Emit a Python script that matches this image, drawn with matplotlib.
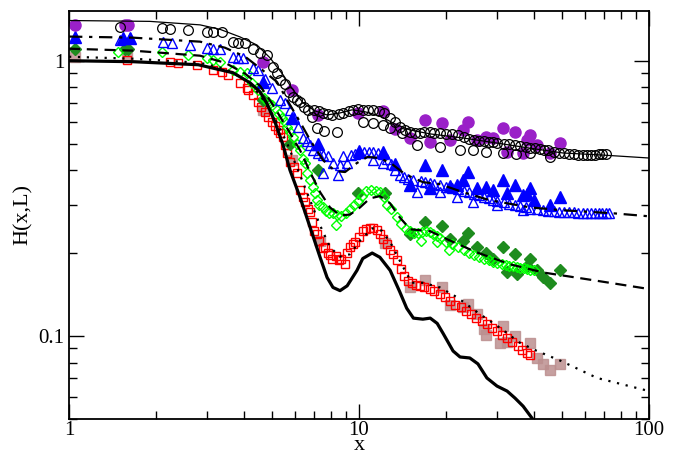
import matplotlib
matplotlib.use('Agg')
import matplotlib.pyplot as plt
from matplotlib.ticker import LogLocator, NullFormatter

plt.rcParams['font.family'] = ['Liberation Serif', 'DejaVu Serif']

# theory curves
xA = [1, 1.9, 2.83, 3.32, 3.89, 4.45, 4.93, 5.47, 5.92, 6.41, 7.05, 7.76, 8.6, 9.46, 10.5,
      11.8, 13.3, 15.0, 17.6, 22.8, 29.9, 38.9, 50.5, 69.4, 100]
yA = [1.40, 1.39, 1.35, 1.30, 1.22, 1.14, 1.025, 0.889, 0.784, 0.703, 0.657, 0.635, 0.646, 0.663, 0.652,
      0.630, 0.589, 0.560, 0.542, 0.524, 0.502, 0.481, 0.462, 0.454, 0.443]

xB = [1, 1.66, 2.83, 3.45, 4.05, 4.63, 5.21, 5.78, 6.26, 6.78, 7.52, 8.27, 8.95, 9.84, 10.7,
      11.8, 13.0, 14.4, 16.6, 19.0, 22.8, 28.3, 38.9, 50.5, 75.1, 100]
yB = [1.224, 1.213, 1.173, 1.115, 1.034, 0.927, 0.838, 0.691, 0.599, 0.515, 0.435, 0.397, 0.394, 0.425, 0.447,
      0.443, 0.421, 0.387, 0.362, 0.356, 0.333, 0.311, 0.293, 0.286, 0.279, 0.272]

xC = [1, 1.66, 2.83, 3.45, 4.05, 4.56, 5.05, 5.78, 6.26, 6.78, 7.34, 7.94, 8.6, 9.31, 10.08,
      10.9, 11.8, 12.8, 13.8, 15.0, 17.6, 20.6, 25.5, 33.2, 43.1, 62.6, 100]
yC = [1.106, 1.088, 1.043, 0.983, 0.897, 0.810, 0.691, 0.546, 0.473, 0.394, 0.333, 0.293, 0.274, 0.276, 0.293,
      0.316, 0.322, 0.303, 0.270, 0.244, 0.240, 0.222, 0.201, 0.182, 0.170, 0.160, 0.148]

xD = [1, 1.66, 2.83, 3.45, 4.05, 4.56, 5.05, 5.65, 6.26, 6.78, 7.34, 7.94, 8.6, 9.31, 10.08,
      11.1, 12.0, 13.0, 14.1, 15.2, 16.6, 19.0, 21.8, 26.1, 30.6, 35.9, 41.1, 49.8, 66.2, 100]
yD = [1.034, 1.017, 0.983, 0.935, 0.852, 0.751, 0.635, 0.501, 0.384, 0.311, 0.252, 0.210, 0.194, 0.198, 0.222,
      0.246, 0.241, 0.213, 0.180, 0.156, 0.156, 0.150, 0.138, 0.120, 0.107, 0.0943, 0.0881, 0.081, 0.0703, 0.063]

xE = [1, 1.66, 2.79, 3.68, 4.21, 4.56, 4.82, 5.13, 5.47, 5.78, 6.26, 6.78, 7.34, 7.76, 8.13, 8.6,
      9.1, 9.84, 10.3, 11.1, 11.8, 12.8, 13.8, 14.6, 15.4, 16.6, 17.6, 18.6, 19.5, 21.1, 22.3, 24.1,
      25.7, 27.6, 29.9, 32.4, 34.5, 36.8, 39.5, 40.4]
yE = [1.0, 0.992, 0.967, 0.904, 0.831, 0.770, 0.697, 0.599, 0.494, 0.400, 0.319, 0.248, 0.193, 0.163, 0.150, 0.146,
      0.152, 0.173, 0.191, 0.200, 0.193, 0.173, 0.145, 0.126, 0.116, 0.115, 0.116, 0.111, 0.102, 0.0881, 0.0838, 0.0831,
      0.0791, 0.0703, 0.0657, 0.0630, 0.0594, 0.0555, 0.0502, 0.0482]

# open black circles
xc = [1.50, 2.09, 2.23, 2.57, 2.99, 3.14, 3.37, 3.68, 3.83, 4.05, 4.31, 4.55, 4.82, 5.05, 5.2, 5.33, 5.55,
      5.75, 5.92, 6.1, 6.26, 6.45, 6.65, 6.88, 7.0, 7.16, 7.3, 7.5, 7.6, 7.8, 8.1, 8.4, 8.5, 8.8, 9.2, 9.5,
      9.9, 10.3, 10.3, 10.7, 11.2, 11.2, 11.7, 12.1, 12.2, 12.8, 12.8, 13.3, 13.8, 14.1, 14.4, 15.0, 15.8,
      15.6, 16.2, 16.8, 17.5, 18.2, 19.0, 19.0, 20, 21, 22, 22.3, 23, 24, 24.7, 25, 26, 27, 27.5, 28, 29,
      30, 31.3, 31.5, 33, 34.5, 34.9, 36, 37.5, 38.9, 39, 40.5, 42, 43.5, 45, 45.5, 47, 49, 51, 53, 55, 57,
      59, 61, 63, 65, 67, 69, 71]
yc = [1.33, 1.32, 1.30, 1.29, 1.27, 1.27, 1.27, 1.17, 1.16, 1.16, 1.10, 1.07, 1.05, 0.95, 0.90, 0.85, 0.82,
      0.77, 0.74, 0.72, 0.71, 0.68, 0.66, 0.625, 0.662, 0.57, 0.655, 0.646, 0.555, 0.64, 0.635, 0.551, 0.64,
      0.646, 0.655, 0.662, 0.665, 0.66, 0.60, 0.662, 0.594, 0.66, 0.655, 0.584, 0.645, 0.62, 0.569, 0.60,
      0.575, 0.546, 0.56, 0.552, 0.494, 0.548, 0.548, 0.549, 0.55, 0.548, 0.486, 0.545, 0.542, 0.54, 0.537,
      0.473, 0.53, 0.52, 0.473, 0.515, 0.512, 0.51, 0.466, 0.507, 0.505, 0.503, 0.461, 0.50, 0.497, 0.494,
      0.458, 0.49, 0.486, 0.461, 0.483, 0.48, 0.478, 0.475, 0.472, 0.446, 0.466, 0.463, 0.461, 0.459, 0.457,
      0.456, 0.456, 0.455, 0.455, 0.456, 0.457, 0.458, 0.458]

# filled purple circles
xp = [1.05, 1.56, 1.60, 4.66, 5.87, 7.22, 9.9, 12.1, 13.3, 15.0, 16.9, 17.6, 19.3, 20.6, 22.8, 23.7,
      25.5, 27.5, 29.0, 31.3, 32.4, 34.4, 36.7, 38.0, 38.9, 41.1, 45.5, 49.2]
yp = [1.35, 1.35, 1.35, 0.99, 0.784, 0.635, 0.646, 0.655, 0.565, 0.525, 0.609, 0.507, 0.594, 0.515, 0.560,
      0.599, 0.515, 0.528, 0.523, 0.569, 0.465, 0.551, 0.461, 0.515, 0.537, 0.494, 0.461, 0.502]

# open blue triangles
xt = [1.50, 1.62, 2.11, 2.26, 2.61, 2.99, 3.14, 3.32, 3.68, 3.83, 3.98, 4.31, 4.48, 4.75, 5.0, 5.33, 5.55,
      5.78, 5.95, 6.16, 6.41, 6.6, 6.78, 6.94, 7.22, 7.52, 7.5, 7.8, 8.13, 8.44, 8.6, 8.8, 9.1, 9.4, 9.7,
      10.0, 10.4, 10.8, 11.2, 11.2, 11.6, 12.1, 12.1, 12.5, 12.9, 13.3, 13.8, 14.3, 14.8, 15.3, 15.8, 16.3,
      16.9, 17.5, 18.2, 19.0, 19.0, 20, 21, 21.8, 22, 23, 24, 24.7, 25, 26, 27, 28, 29, 29.9, 30, 31.5, 33,
      34.5, 36, 36.7, 37.5, 39, 41, 43, 45, 47, 49, 51, 53, 55, 57, 59, 61, 63, 65, 67, 69, 71, 73]
yt = [1.19, 1.21, 1.17, 1.16, 1.14, 1.115, 1.10, 1.10, 1.034, 1.025, 1.025, 0.943, 0.927, 0.86, 0.797, 0.72,
      0.703, 0.662, 0.62, 0.574, 0.523, 0.51, 0.494, 0.473, 0.461, 0.390, 0.455, 0.45, 0.425, 0.384, 0.417,
      0.45, 0.425, 0.455, 0.46, 0.463, 0.465, 0.467, 0.435, 0.466, 0.463, 0.425, 0.458, 0.44, 0.42, 0.40,
      0.385, 0.377, 0.372, 0.368, 0.333, 0.365, 0.362, 0.358, 0.355, 0.333, 0.352, 0.349, 0.345, 0.319,
      0.341, 0.337, 0.333, 0.306, 0.329, 0.325, 0.321, 0.317, 0.313, 0.298, 0.31, 0.306, 0.302, 0.299, 0.296,
      0.286, 0.293, 0.29, 0.288, 0.286, 0.285, 0.284, 0.283, 0.282, 0.281, 0.281, 0.280, 0.280, 0.280, 0.279,
      0.279, 0.279, 0.279, 0.279, 0.279]

# filled blue triangles
xT = [1.05, 1.54, 1.62, 4.66, 5.87, 7.22, 10.0, 12.1, 13.3, 15.0, 16.9, 17.6, 19.3, 20.6, 21.8, 22.8, 23.7,
      25.5, 27.5, 29.0, 31.3, 32.4, 34.4, 36.7, 38.0, 38.9, 40.2, 45.5, 49.2]
yT = [1.22, 1.21, 1.21, 0.84, 0.62, 0.50, 0.47, 0.465, 0.42, 0.353, 0.417, 0.345, 0.40, 0.35, 0.353, 0.368,
      0.394, 0.345, 0.347, 0.338, 0.368, 0.33, 0.353, 0.325, 0.329, 0.344, 0.311, 0.30, 0.319]

# open green diamonds
xd = [1.48, 2.09, 2.57, 2.99, 3.14, 3.32, 3.68, 3.89, 4.1, 4.28, 4.48, 4.7, 4.86, 5.0, 5.13, 5.3, 5.43, 5.55,
      5.65, 5.8, 5.92, 6.1, 6.26, 6.41, 6.51, 6.62, 6.75, 6.94, 7.05, 7.16, 7.3, 7.52, 7.7, 7.9, 8.13, 8.35,
      8.4, 8.7, 9.0, 9.3, 9.6, 9.9, 10.2, 10.6, 11.0, 11.4, 11.8, 12.2, 12.5, 12.9, 13.5, 14.0, 14.5, 15,
      15.5, 16, 16.3, 16.5, 17, 17.5, 18, 18.5, 18.5, 19, 20, 20.5, 21, 22, 23, 24, 25, 26, 27, 28, 29, 30,
      31, 32, 33, 34, 35, 36, 37, 38, 39, 40]
yd = [1.08, 1.08, 1.05, 1.025, 1.01, 0.99, 0.927, 0.912, 0.90, 0.83, 0.78, 0.73, 0.71, 0.69, 0.674, 0.64,
      0.62, 0.60, 0.574, 0.55, 0.528, 0.50, 0.473, 0.44, 0.425, 0.39, 0.37, 0.347, 0.33, 0.311, 0.30, 0.293,
      0.285, 0.28, 0.279, 0.252, 0.275, 0.272, 0.28, 0.29, 0.30, 0.31, 0.322, 0.335, 0.338, 0.336, 0.333,
      0.32, 0.30, 0.29, 0.27, 0.255, 0.245, 0.24, 0.237, 0.236, 0.222, 0.238, 0.24, 0.238, 0.234, 0.23,
      0.22, 0.226, 0.22, 0.205, 0.215, 0.21, 0.205, 0.20, 0.197, 0.194, 0.19, 0.188, 0.186, 0.184, 0.183,
      0.181, 0.18, 0.179, 0.178, 0.177, 0.176, 0.175, 0.174, 0.173]

# filled green diamonds
xD2 = [1.05, 1.56, 1.60, 4.66, 5.78, 7.22, 9.9, 12.3, 15.0, 16.9, 19.3, 20.6, 22.8, 23.7, 25.5, 27.5,
       29.0, 31.3, 32.4, 34.4, 35.0, 38.0, 38.9, 41.0, 43.1, 45.5, 49.2]
yD2 = [1.10, 1.10, 1.10, 0.72, 0.50, 0.40, 0.33, 0.33, 0.235, 0.259, 0.25, 0.225, 0.222, 0.236, 0.21, 0.20,
       0.19, 0.21, 0.17, 0.199, 0.168, 0.18, 0.191, 0.173, 0.163, 0.156, 0.173]

# open red squares
xs = [1.58, 2.23, 2.38, 2.76, 3.14, 3.37, 3.53, 3.89, 4.1, 4.14, 4.3, 4.48, 4.6, 4.73, 4.87, 5.0, 5.12, 5.25,
      5.36, 5.47, 5.55, 5.65, 5.78, 5.95, 6.11, 6.26, 6.4, 6.51, 6.65, 6.78, 6.88, 7.0, 7.16, 7.3, 7.52, 7.64,
      7.8, 7.94, 8.1, 8.3, 8.5, 8.7, 8.95, 9.1, 9.3, 9.5, 9.7, 10.0, 10.3, 10.6, 10.9, 11.2, 11.5, 11.8, 12.1,
      12.5, 12.8, 13.1, 13.5, 13.9, 14.3, 14.7, 15.2, 15.7, 16.2, 16.8, 17.5, 18.2, 19, 19.8, 20.6, 21.5,
      22.4, 23.4, 24.4, 25.4, 26.5, 27.6, 28.8, 30, 31.2, 32.5, 33.8, 35.2, 36.6, 38, 39]
ys = [1.01, 0.99, 0.983, 0.967, 0.927, 0.912, 0.889, 0.831, 0.797, 0.784, 0.75, 0.709, 0.68, 0.651, 0.625,
      0.599, 0.58, 0.56, 0.545, 0.528, 0.494, 0.461, 0.43, 0.41, 0.39, 0.338, 0.32, 0.306, 0.29, 0.281, 0.259,
      0.241, 0.235, 0.222, 0.208, 0.21, 0.20, 0.196, 0.19, 0.195, 0.188, 0.19, 0.183, 0.20, 0.21, 0.215, 0.22,
      0.228, 0.24, 0.244, 0.247, 0.246, 0.242, 0.235, 0.225, 0.216, 0.205, 0.199, 0.188, 0.175, 0.165, 0.158,
      0.155, 0.153, 0.152, 0.15, 0.148, 0.146, 0.142, 0.138, 0.134, 0.13, 0.127, 0.123, 0.12, 0.116, 0.113,
      0.11, 0.107, 0.104, 0.101, 0.098, 0.095, 0.092, 0.089, 0.087, 0.085]

# filled rosy squares
xS = [1.05, 1.58, 4.66, 5.87, 7.34, 12.3, 15.0, 16.9, 19.3, 20.6, 22.8, 23.7, 25.5, 27.0, 27.5, 30.6, 31.3,
      32.4, 34.4, 38.9, 41.0, 43.1, 45.5, 49.2]
yS = [1.03, 1.03, 0.66, 0.435, 0.222, 0.218, 0.15, 0.159, 0.15, 0.13, 0.127, 0.131, 0.12, 0.106, 0.101,
      0.094, 0.109, 0.095, 0.10, 0.094, 0.083, 0.079, 0.075, 0.079]

fig = plt.figure(figsize=(6.78, 4.55), dpi=100)
ax = fig.add_axes([0.1018, 0.0798, 0.8555, 0.8967])

ax.plot(xS, yS, 's', color='#bc8f8f', ms=7, mec='#bc8f8f', alpha=0.85)
ax.plot(xs, ys, 's', color='red', mfc='none', ms=6, mew=1)
ax.plot(xD2, yD2, 'D', color='#1e8c1e', ms=6)
ax.plot(xd, yd, 'D', color='#00ff00', mfc='none', ms=5.5, mew=1)
ax.plot(xT, yT, '^', color='blue', ms=8)
ax.plot(xt, yt, '^', color='blue', mfc='none', ms=7, mew=1)
ax.plot(xp, yp, 'o', color='#9a20c8', ms=8)
ax.plot(xc, yc, 'o', color='black', mfc='none', ms=7, mew=0.9)

ax.plot(xA, yA, '-', color='black', lw=0.9)
ax.plot(xB, yB, color='black', lw=1.6, dashes=[6, 3, 1.5, 3])
ax.plot(xC, yC, color='black', lw=1.6, dashes=[5, 3])
ax.plot(xD, yD, color='black', lw=1.6, dashes=[1, 3])
ax.plot(xE, yE, '-', color='black', lw=2.3, solid_joinstyle='round')

ax.set_xscale('log')
ax.set_yscale('log')
ax.set_xlim(1, 100)
ax.set_ylim(0.05, 1.52)

ax.set_xticks([1, 10, 100])
ax.set_xticklabels(['1', '10', '100'])
ax.set_yticks([0.1, 1])
ax.set_yticklabels(['0.1', '1'])
ax.xaxis.set_minor_locator(LogLocator(base=10, subs=range(2, 10)))
ax.yaxis.set_minor_locator(LogLocator(base=10, subs=range(2, 10)))
ax.xaxis.set_minor_formatter(NullFormatter())
ax.yaxis.set_minor_formatter(NullFormatter())
ax.tick_params(which='both', direction='in', top=True, right=True, labelsize=15)
ax.tick_params(axis='x', which='major', pad=2)
ax.tick_params(which='major', length=11, width=1)
ax.tick_params(which='minor', length=6, width=1)
for s in ax.spines.values():
    s.set_linewidth(1.3)

ax.set_xlabel('x', fontsize=16)
ax.xaxis.set_label_coords(0.5, -0.077)
ax.xaxis.label.set_verticalalignment('baseline')
ax.set_ylabel('H(x,L)', fontsize=16)

fig.savefig('out.png', dpi=100)
